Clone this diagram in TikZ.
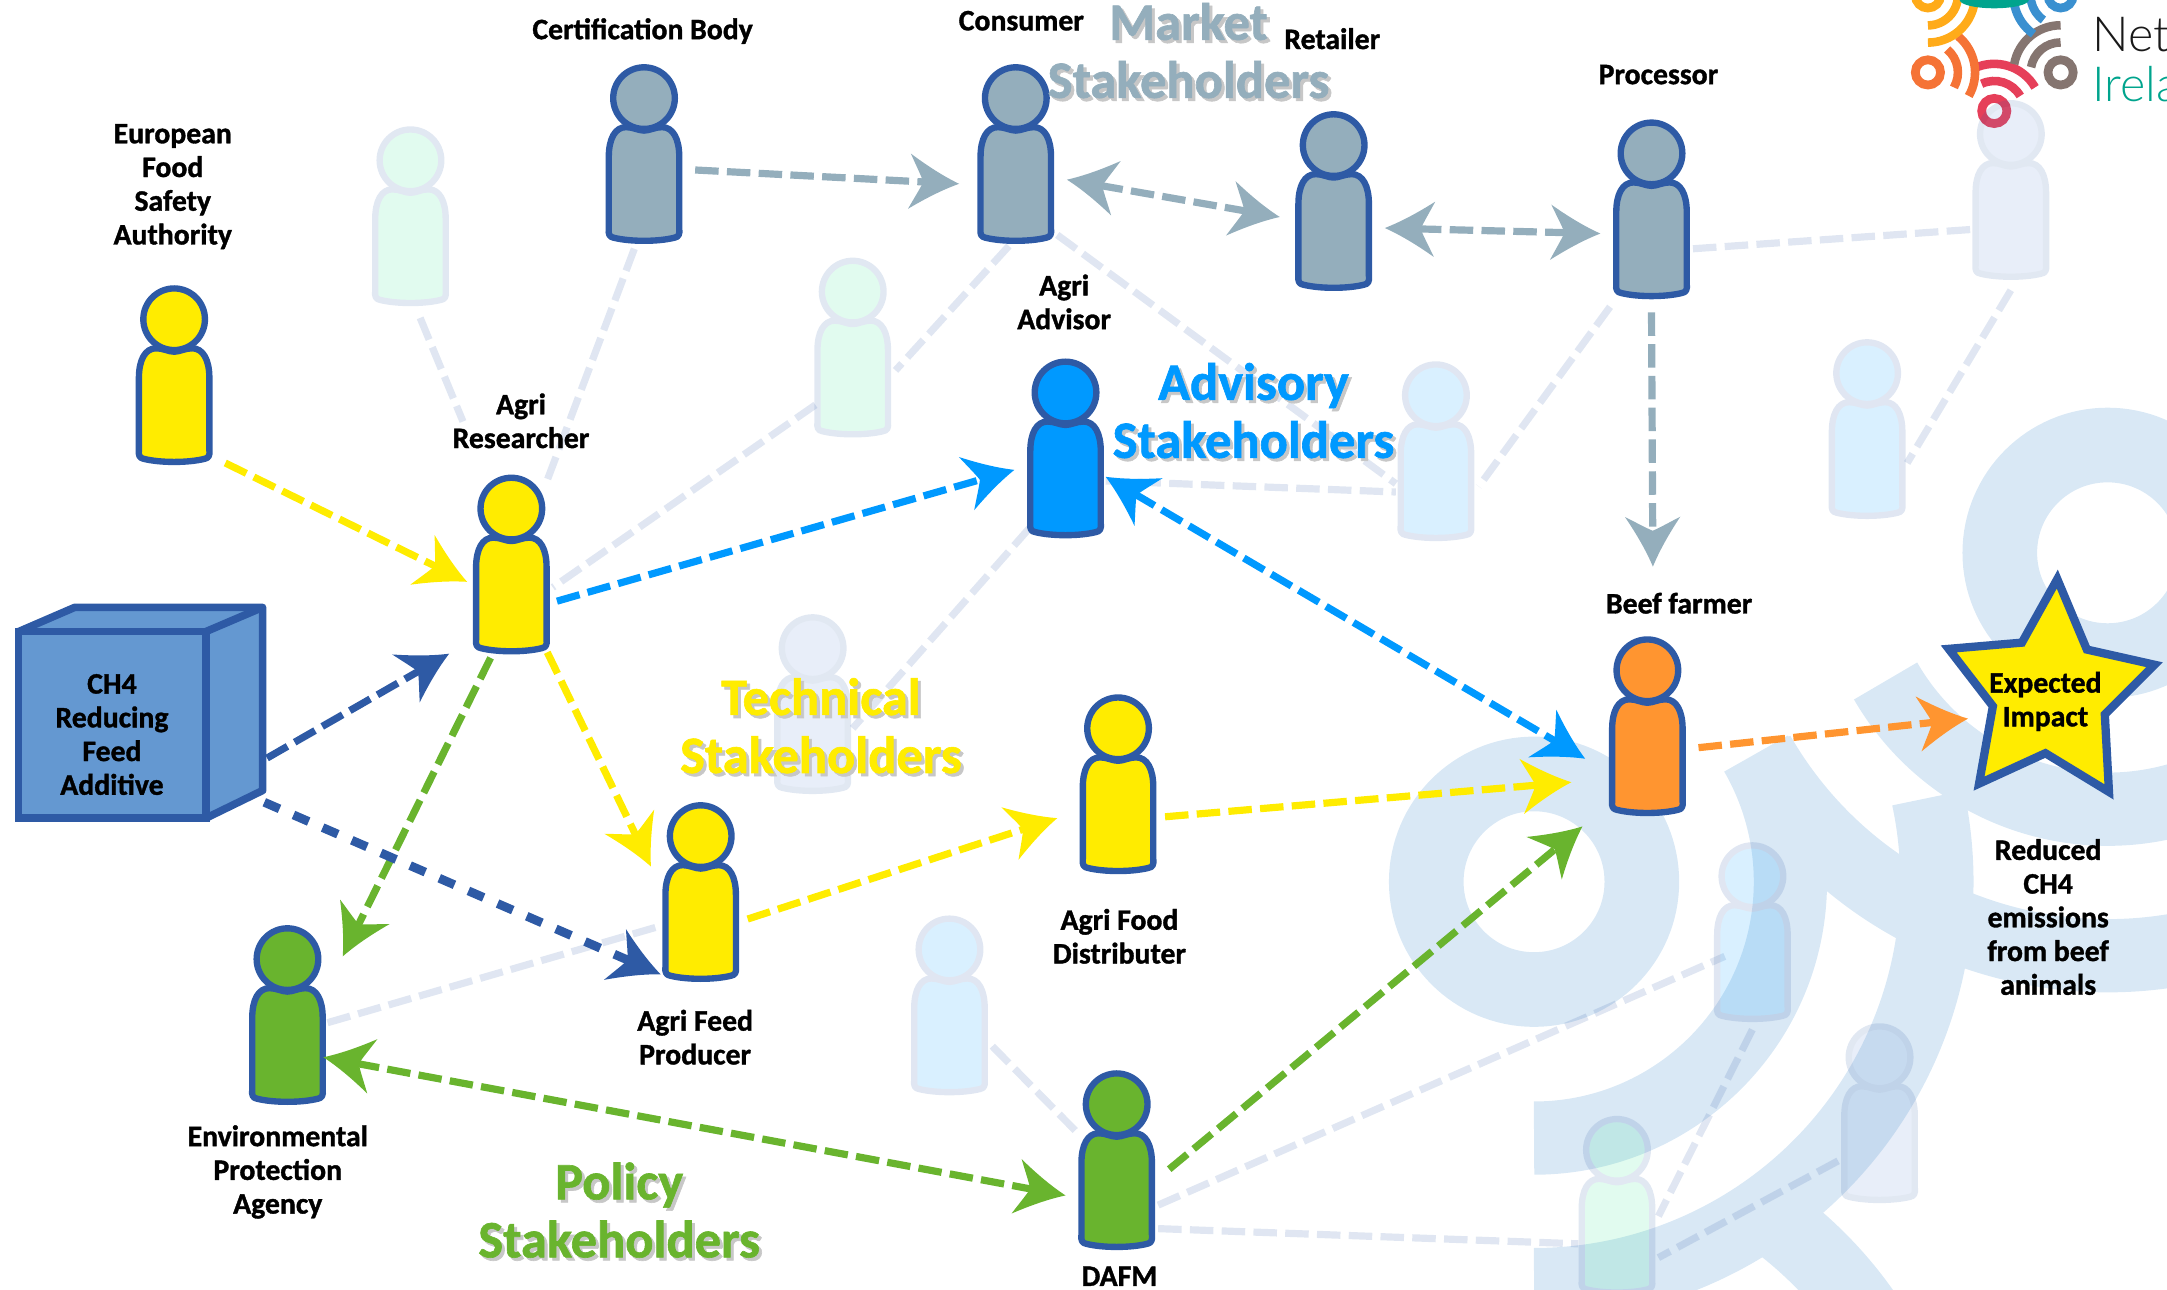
\documentclass[tikz,border=0pt]{standalone}
\usepackage{fontspec}
\setmainfont{Carlito}[BoldFeatures={FakeBold=1.2}]
\newfontfamily\logofont{Lato Light}
\definecolor{ol}{HTML}{2E5AA5}
\definecolor{cyel}{HTML}{FFEC00}
\definecolor{cgrey}{HTML}{94AEBC}
\definecolor{cblue}{HTML}{0099FF}
\definecolor{cgreen}{HTML}{69B42E}
\definecolor{corange}{HTML}{FF9530}
\definecolor{cbox}{HTML}{6498D1}
\definecolor{wm}{HTML}{D9E8F5}
\definecolor{fgreen}{HTML}{2DE48C}
\definecolor{fgrey}{HTML}{5987D1}
\definecolor{lred}{HTML}{E63F59}
\definecolor{lorange}{HTML}{F57336}
\definecolor{lbrown}{HTML}{857570}
\definecolor{lyellow}{HTML}{FFAB19}
\definecolor{lblue}{HTML}{3A90D0}
\definecolor{lteal}{HTML}{00A48D}
\pgfdeclarearrow{
  name=Wing,
  setup code={
    \pgfarrowssettipend{0pt}
    \pgfarrowssetlineend{-24pt}
    \pgfarrowssetvisualbackend{-26pt}
    \pgfarrowssetbackend{-36pt}
    \pgfarrowshullpoint{0pt}{0pt}
    \pgfarrowshullpoint{-36pt}{20pt}
    \pgfarrowshullpoint{-36pt}{-20pt}
  },
  drawing code={
    \pgfpathmoveto{\pgfqpoint{0pt}{0pt}}
    \pgfpathcurveto{\pgfqpoint{-12pt}{5pt}}{\pgfqpoint{-24pt}{12pt}}{\pgfqpoint{-36pt}{20pt}}
    \pgfpathcurveto{\pgfqpoint{-32pt}{12pt}}{\pgfqpoint{-28pt}{5pt}}{\pgfqpoint{-26pt}{0pt}}
    \pgfpathcurveto{\pgfqpoint{-28pt}{-5pt}}{\pgfqpoint{-32pt}{-12pt}}{\pgfqpoint{-36pt}{-20pt}}
    \pgfpathcurveto{\pgfqpoint{-24pt}{-12pt}}{\pgfqpoint{-12pt}{-5pt}}{\pgfqpoint{0pt}{0pt}}
    \pgfpathclose
    \pgfusepathqfill
  }
}
\tikzset{
  personbox/.style={inner sep=0pt,outer sep=0pt,minimum width=56pt,minimum height=129pt},
  lab/.style={font=\fontsize{21.5}{24.4}\selectfont\bfseries,align=center,text=black,inner sep=0pt,yshift=-1.5pt},
  big/.style={font=\fontsize{38}{42}\selectfont\bfseries,inner sep=0pt},
  flow/.style={line width=5.2pt,dash pattern=on 17pt off 6pt},
  faint/.style={line width=5.2pt,dash pattern=on 17pt off 6pt,color=ol,opacity=.15},
  short/.style={line width=6.4pt,dash pattern=on 12pt off 11pt}
}
\newcommand{\withshadow}[1]{\makebox[0pt][l]{\raisebox{-2.2pt}{\hspace{2.2pt}\color{black!22}\begin{tabular}{@{}c@{}}#1\end{tabular}}}\begin{tabular}{@{}c@{}}#1\end{tabular}}
% person drawn around the centre of a named node
\newcommand{\drawperson}[3]{%
  \begin{scope}[shift={(#1.center)},transparency group,opacity=#3]
    \path[draw=ol,fill=#2,line width=4.6pt,line join=round]
      (-25.5,-54) .. controls (-26,-58) and (-25,-60) .. (-22,-60.5)
      .. controls (-10,-63.5) and (10,-63.5) .. (22,-60.5)
      .. controls (25,-60) and (26,-58) .. (25.5,-54)
      -- (25.5,-2) .. controls (25.5,11) and (21,19.5) .. (13,19.5)
      .. controls (8,19.5) and (4,17) .. (0,17)
      .. controls (-4,17) and (-8,19.5) .. (-13,19.5)
      .. controls (-21,19.5) and (-25.5,11) .. (-25.5,-2) -- cycle;
    \path[draw=ol,fill=#2,line width=4.6pt] (0,40.5) circle[radius=22.3];
  \end{scope}}
% ring with its two arcs: x, y, start, colour, scale, span of inner arc, span of outer arc
\newcommand{\logoring}[7]{%
  \begin{scope}[shift={(#1,#2)},scale=#5]
    \draw[#4,line width=#5*54pt] (0,0) circle[radius=78];
    \draw[#4,line width=#5*53pt] (#3:185.5) arc[start angle=#3,delta angle=#6,radius=185.5];
    \draw[#4,line width=#5*53pt] (#3:291.5) arc[start angle=#3,delta angle=#7,radius=291.5];
  \end{scope}}
\newcommand{\conn}[6][]{\draw[#2,#1] ([shift={(#4)}]#3.center) -- ([shift={(#6)}]#5.center);}
\begin{document}
\begin{tikzpicture}[x=1pt,y=1pt]
\useasboundingbox (0,0) rectangle (1568,-933.4);
\clip (0,0) rectangle (1568,-933.4);
% nodes
\foreach \n/\x/\y in {efsa/126/271.5,cert/466/111.5,cons/735/111.5,reta/965/145.5,proc/1195/151.5,res/370/408.5,adv/771/324.5,beef/1192/525.5,dist/809/567.5,prod/507/645.5,epa/208/734.5,dafm/808/839.5,f1/297/156.5,f2/617/251.5,f3/1455/137.5,f4/1351/310.5,f5/1039/326.5,f6/588/509.5,f7/687/727.5,f8/1268/674.5,f9/1360/805.5,f10/1170/872.5}
  {\node[personbox] (\n) at (\x,-\y) {};}
% watermark
\logoring{1110}{-638}{-90}{wm}{1}{120}{102}
\logoring{1525}{-400}{210}{wm}{1}{120}{120}
\logoring{1110}{-1117}{-30}{wm}{1}{85}{85}
% logo
\logoring{1443}{-80.3}{30}{lred}{.117}{85}{85}
\logoring{1395}{-52.4}{-30}{lorange}{.117}{80}{80}
\logoring{1491}{-52.4}{90}{lbrown}{.117}{80}{80}
\logoring{1395}{3.3}{-90}{lyellow}{.117}{108}{108}
\logoring{1491}{3.3}{150}{lblue}{.117}{85}{85}
\fill[lteal] (1418,0) arc[start angle=180,end angle=360,x radius=25,y radius=6] -- cycle;
\node[anchor=base west,inner sep=0pt,text=black!90] (lognet) at (1514,-37.5) {\logofont\fontsize{35}{35}\selectfont Net};
\node[anchor=base west,inner sep=0pt,text=lteal] (logirl) at (1514,-73.6) {\logofont\fontsize{35}{35}\selectfont Irela};
% faint connectors
\conn{faint}{f1}{7,-73.5}{res}{-35,103.5}
\conn{faint}{cert}{-7,-68.5}{res}{25,58.5}
\conn{faint}{cons}{-5,-66.5}{f2}{31,-16.5}
\conn{faint}{f2}{-27,-41.5}{res}{30,-16.5}
\conn{faint}{cons}{30,-58.5}{f5}{-29,-23.5}
\conn{faint}{adv}{29,-23.5}{f5}{-29,-29.5}
\conn{faint}{proc}{-30,-70.5}{f5}{31,-25.5}
\conn{faint}{proc}{30,-28.5}{f3}{-28,-28.5}
\conn{faint}{f3}{0,-72.5}{f4}{29,-24.5}
\conn{faint}{adv}{-26,-57.5}{f6}{29,-17.5}
\conn{faint}{epa}{29,-5.5}{prod}{-29,-24.5}
\conn{faint}{f7}{31,-29.5}{dafm}{-30,21.5}
\conn{faint}{dafm}{30,-32.5}{f8}{-20,-17.5}
\conn{faint}{dafm}{30,-49.5}{f10}{-28,-27.5}
\conn{faint}{f8}{0,-70.5}{f10}{30,-7.5}
\conn{faint}{f9}{-30,-34.5}{f10}{30,-37.5}
% faint persons
\drawperson{f1}{fgreen}{.14}
\drawperson{f2}{fgreen}{.14}
\drawperson{f3}{fgrey}{.14}
\drawperson{f4}{cblue}{.15}
\drawperson{f5}{cblue}{.15}
\drawperson{f6}{fgrey}{.14}
\drawperson{f7}{cblue}{.15}
\drawperson{f8}{cblue}{.15}
\drawperson{f9}{fgrey}{.14}
\drawperson{f10}{fgreen}{.14}
% persons
\drawperson{efsa}{cyel}{1}
\drawperson{res}{cyel}{1}
\drawperson{dist}{cyel}{1}
\drawperson{prod}{cyel}{1}
\drawperson{cert}{cgrey}{1}
\drawperson{cons}{cgrey}{1}
\drawperson{reta}{cgrey}{1}
\drawperson{proc}{cgrey}{1}
\drawperson{adv}{cblue}{1}
\drawperson{beef}{corange}{1}
\drawperson{epa}{cgreen}{1}
\drawperson{dafm}{cgreen}{1}
% cube
\fill[cbox] (13.5,-457) -- (54,-439.5) -- (190,-439.5) -- (190,-572) -- (149,-592) -- (13.5,-592) -- cycle;
\draw[ol,line width=5.5pt,line join=round] (13.5,-457) -- (54,-439.5) -- (190,-439.5) -- (190,-572) -- (149,-592);
\draw[ol,line width=5.5pt,line join=round] (149,-457) -- (190,-439.5);
\node[draw=ol,line width=5.5pt,fill=cbox,minimum width=135.5pt,minimum height=135pt,inner sep=0pt,outer sep=0pt] (cube) at (81.25,-524.5) {};
\node[lab] (cubelab) at (81,-530) {CH4\\Reducing\\Feed\\Additive};
% star
\node[inner sep=0pt,outer sep=0pt,minimum size=1pt] (star) at (1480,-505) {};
\draw[ol,fill=cyel,line width=6pt,line join=miter] (1488.6,-419) -- (1510,-470) -- (1559,-481) -- (1523,-517) -- (1526,-573) -- (1480,-545) -- (1432,-567) -- (1442,-511) -- (1410,-469.5) -- (1463,-465) -- cycle;
\node[lab] (starlab) at (1480,-506) {Expected\\Impact};
% connectors
\conn[-{Wing}]{flow,cyel}{efsa}{37,-63.5}{res}{-32,-12.5}
\conn[-{Wing}]{flow,cyel}{res}{26,-63.5}{prod}{-36,18.5}
\conn[-{Wing}]{flow,cblue}{res}{33,-26.5}{adv}{-37,-15.5}
\conn[-{Wing}]{flow,cgreen}{res}{-15,-67.5}{epa}{40,42.5}
\conn[-{Wing}]{flow,ol}{cube}{112,-24}{res}{-45,-64.5}
\conn[-{Wing}]{short,ol}{cube}{110,-56}{prod}{-29,-59.5}
\conn[-{Wing}]{flow,cyel}{prod}{34,-19.5}{dist}{-44,-24.5}
\conn[-{Wing}]{flow,cyel}{dist}{34,-23.5}{beef}{-55,-40.5}
\conn[{Wing}-{Wing}]{flow,cblue}{adv}{29,-20.5}{beef}{-45,-23.5}
\conn[{Wing}-{Wing}]{flow,cgreen}{epa}{26,-30.5}{dafm}{-37,-25.5}
\conn[-{Wing}]{flow,cgreen}{dafm}{38,-6.5}{beef}{-47,-72.5}
\conn[-{Wing}]{flow,corange}{beef}{37,-15.5}{star}{-56,-15}
\conn[-{Wing}]{flow,cgrey}{cert}{37,-11.5}{cons}{-41,-21.5}
\conn[{Wing}-{Wing}]{flow,cgrey}{cons}{37,-18.5}{reta}{-39,-11.5}
\conn[{Wing}-{Wing}]{flow,cgrey}{reta}{37,-19.5}{proc}{-37,-17.5}
\conn[-{Wing}]{flow,cgrey}{proc}{0,-74.5}{beef}{4,115.5}
% labels
\node[lab] (l1) at (465,-21) {Certification Body};
\node[lab] (l2) at (739,-13.5) {Consumer};
\node[lab] (l3) at (964,-26.5) {Retailer};
\node[lab] (l4) at (1200,-52.5) {Processor};
\node[lab] (l5) at (125,-133.5) {European\\Food\\Safety\\Authority};
\node[lab] (l6) at (377,-303) {Agri\\Researcher};
\node[lab] (l7) at (770,-217) {Agri\\Advisor};
\node[lab] (l8) at (1215,-435) {Beef farmer};
\node[lab] (l9) at (810,-676) {Agri Food\\Distributer};
\node[lab] (l10) at (503,-749) {Agri Feed\\Producer};
\node[lab] (l11) at (201,-846.5) {Environmental\\Protection\\Agency};
\node[lab] (l12) at (810,-922) {DAFM};
\node[lab] (l13) at (1482,-662) {Reduced\\CH4\\emissions\\from beef\\animals};
\node[big,text=cgrey] (g1) at (860,-42.5) {\withshadow{Market\\Stakeholders}};
\node[big,text=cblue] (g2) at (907,-303) {\withshadow{Advisory\\Stakeholders}};
\node[big,text=cyel] (g3) at (594,-531) {\withshadow{Technical\\Stakeholders}};
\node[big,text=cgreen] (g4) at (448,-881.5) {\withshadow{Policy\\Stakeholders}};
\end{tikzpicture}
\end{document}
